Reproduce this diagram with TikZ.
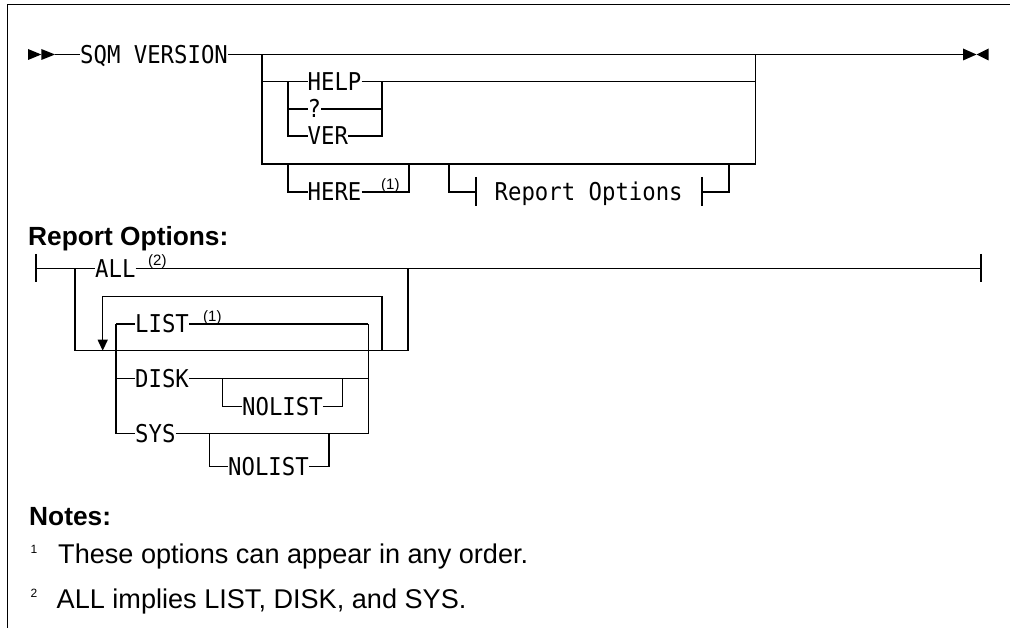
\documentclass[tikz,border=0pt]{standalone}
\usepackage{fontspec}
\usepackage{graphicx}
\setmainfont{Liberation Sans}
\newfontfamily\kwfam{DejaVu Sans Mono}
\usetikzlibrary{arrows.meta}
\newcommand{\kwtxt}[1]{\scalebox{1}[1.1]{#1}}
\tikzset{
  rr/.style={line width=1.3pt},
  tickmark/.style={line width=1.7pt},
  kw/.style={font=\kwfam\fontsize{22.3}{24}\selectfont, inner sep=0pt, text height=17.9pt, text depth=0pt, anchor=west},
  notemark/.style={font=\fontsize{15}{16}\selectfont, inner sep=0pt, anchor=base west},
  hdr/.style={font=\bfseries\fontsize{26.3}{30}\selectfont, inner sep=0pt, anchor=base west},
  notetext/.style={font=\fontsize{27.1}{30}\selectfont, inner sep=0pt, anchor=base west},
  notenum/.style={font=\fontsize{12}{13}\selectfont, inner sep=0pt, anchor=base west},
}
\begin{document}
\begin{tikzpicture}[x=1pt,y=-1pt]
\useasboundingbox (0,0) rectangle (1010,628);
% frame
\draw[line width=1.3pt] (1010,4.5) -- (7.3,4.5) -- (7.3,628);

% ===== main diagram =====
\fill (28,49) -- (41.3,54.5) -- (28,60) -- cycle;
\fill (41.3,49) -- (55,54.5) -- (41.3,60) -- cycle;
\fill (963,48.5) -- (976.5,54.5) -- (963,60.5) -- cycle;
\fill (988.5,48.5) -- (976.5,54.5) -- (988.5,60.5) -- cycle;
\coordinate (s0) at (55,54.5);
\coordinate (e0) at (963,54.5);
\node[kw] (sqm) at (80,54.5) {\kwtxt{SQM VERSION}};
\coordinate (jA) at (262,54.5);
\coordinate (jB) at (755.7,54.5);
\coordinate (jAb) at (262,164);
\coordinate (jBb) at (755.7,164);
\draw[rr] (s0) -- (sqm.west);
\draw[rr] (sqm.east) -- (e0);
\draw[rr] (jA) -- (jAb) -- (jBb) -- (jB);

\node[kw] (help) at (307.5,81.3) {\kwtxt{HELP}};
\node[kw] (q) at (307.5,109) {\kwtxt{?}};
\node[kw] (ver) at (307.5,136) {\kwtxt{VER}};
\coordinate (hl) at (288,81.3);
\coordinate (hr) at (382,81.3);
\draw[rr] (jA) |- (help.west);
\draw[rr] (help.east) -- (755.7,81.3);
\draw[rr] (hl) |- (q.west);
\draw[rr] (hl) |- (ver.west);
\draw[rr] (q.east) -| (hr);
\draw[rr] (ver.east) -| (hr);

\node[kw] (here) at (307.5,192) {\kwtxt{HERE}};
\coordinate (herel) at (288,164);
\coordinate (herer) at (409,164);
\draw[rr] (herel) |- (here.west);
\draw[rr] (here.east) -| (herer);
\node[notemark] (n1a) at (381,189.5) {(1)};

\node[kw] (rop) at (494.5,192) {\kwtxt{Report Options}};
\coordinate (ropl) at (449,164);
\coordinate (ropr) at (729,164);
\coordinate (tl) at (476,192);
\coordinate (tr) at (701.7,192);
\draw[rr] (ropl) |- (tl);
\draw[rr] (tr) -| (ropr);
\draw[tickmark] (476,177) -- (476,206);
\draw[tickmark] (701.7,177) -- (701.7,206);

% ===== Report Options fragment =====
\node[hdr] (rohead) at (28,246) {Report Options:};
\coordinate (rs) at (35.7,268.3);
\coordinate (re) at (981,268.3);
\draw[tickmark] (35.7,254) -- (35.7,282.5);
\draw[tickmark] (981,254) -- (981,282.5);
\node[kw] (all) at (95,268.3) {\kwtxt{ALL}};
\node[notemark] (n2) at (148,266) {(2)};
\coordinate (ja) at (75,268.3);
\coordinate (jb) at (408,268.3);
\draw[rr] (rs) -- (all.west);
\draw[rr] (all.east) -- (re);
\draw[rr] (ja) |- (jb |- 0,350.7) -- (jb);

% repeat loop
\draw[rr,-{Triangle[width=10pt,length=11pt]}] (382,350.7) |- (102.7,296.7) -- (102.7,350.7);

% LIST / DISK / SYS group
\node[kw] (list) at (135,324) {\kwtxt{LIST}};
\node[notemark] (n1b) at (203,321.5) {(1)};
\node[kw] (disk) at (135,378.3) {\kwtxt{DISK}};
\node[kw] (sys) at (135,433.3) {\kwtxt{SYS}};
\coordinate (gl) at (116,324);
\coordinate (gr) at (368.3,324);
\draw[rr] (gl) |- (sys.west);
\draw[rr] (gl) -- (list.west);
\draw[rr] (list.east) -- (gr);
\draw[rr] (116,378.3) -- (disk.west);
\draw[rr] (disk.east) -| (gr);
\draw[rr] (sys.east) -| (gr);

\node[kw] (nl1) at (242,406.7) {\kwtxt{NOLIST}};
\draw[rr] (222.7,378.3) |- (nl1.west);
\draw[rr] (nl1.east) -| (342.3,378.3);

\node[kw] (nl2) at (228,466.4) {\kwtxt{NOLIST}};
\draw[rr] (209.7,433.3) |- (nl2.west);
\draw[rr] (nl2.east) -| (329,433.3);

% ===== Notes =====
\node[hdr] (notes) at (29,525.7) {Notes:};
\node[notenum] (k1) at (30.5,553) {1};
\node[notetext] (t1) at (58,563) {These options can appear in any order.};
\node[notenum] (k2) at (30.5,597.5) {2};
\node[notetext] (t2) at (56.5,608) {ALL implies LIST, DISK, and SYS.};
\end{tikzpicture}
\end{document}
